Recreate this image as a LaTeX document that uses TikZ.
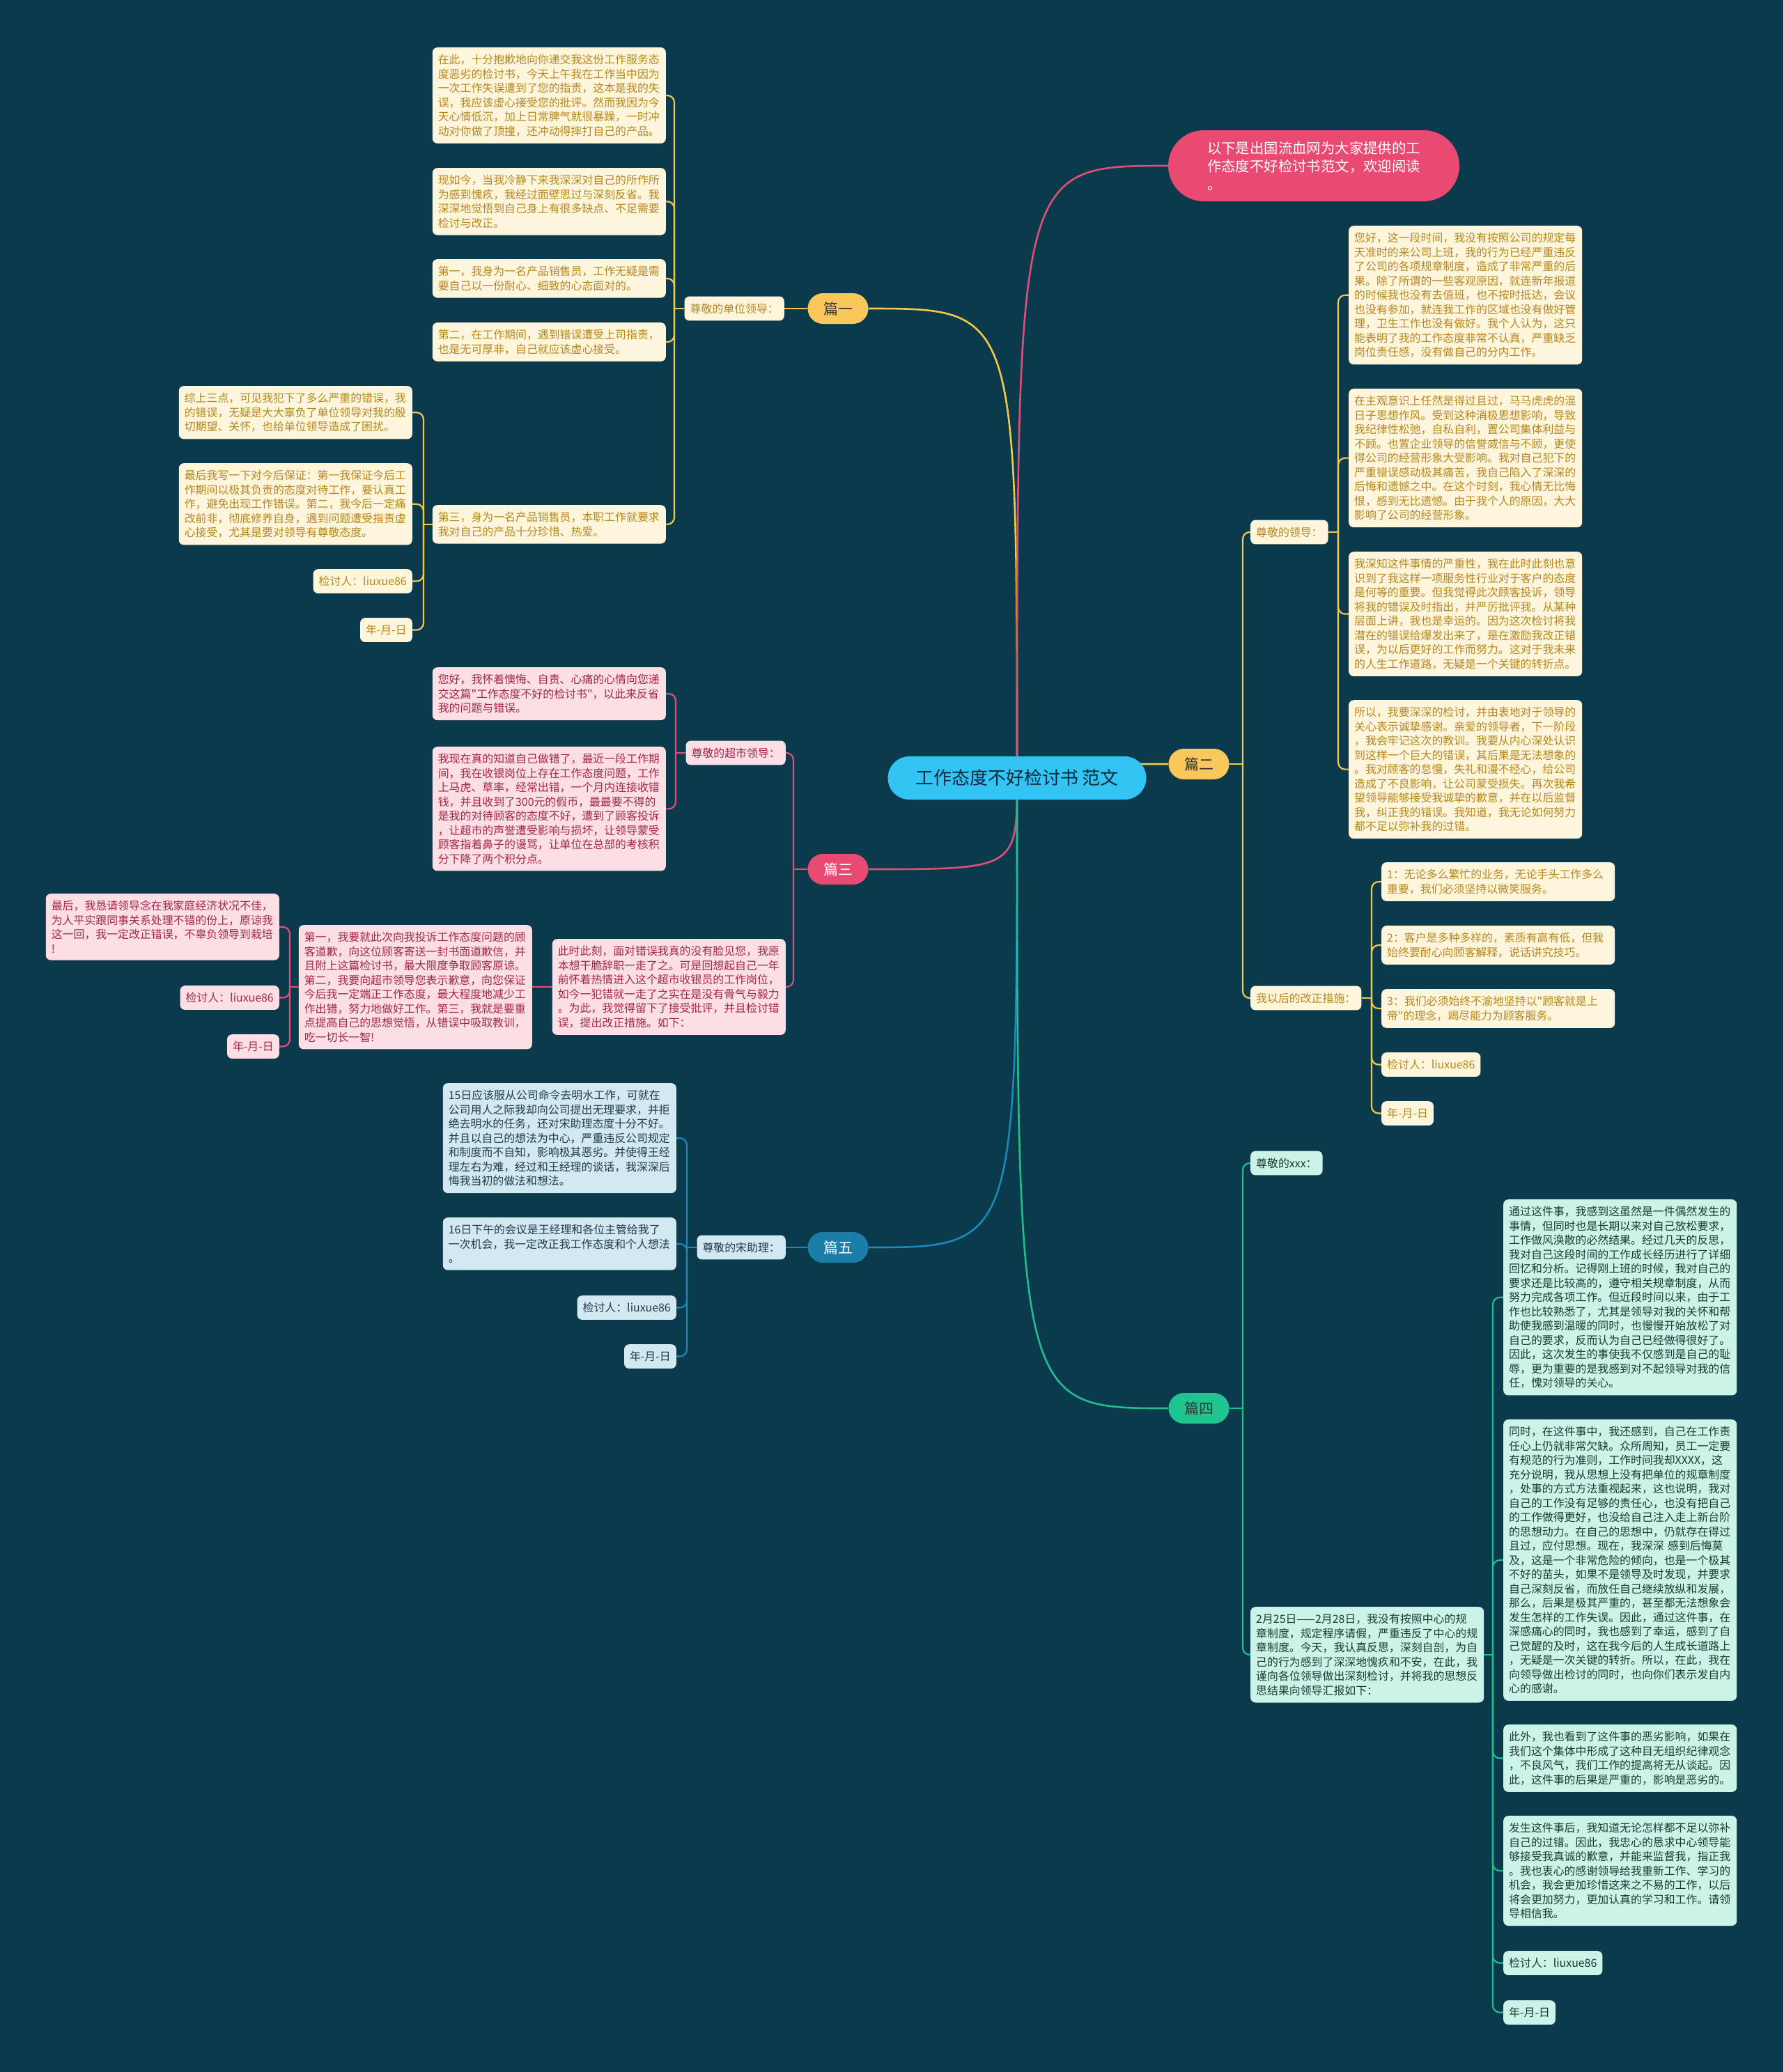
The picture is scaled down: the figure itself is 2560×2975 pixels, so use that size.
\documentclass[tikz,border=0pt]{standalone}
\usepackage{fontspec}
\setmainfont{Noto Sans CJK SC}[Ligatures=TeXOff]
\definecolor{bgc}{RGB}{11,58,77}
\definecolor{yline}{RGB}{242,201,76}
\definecolor{ycream}{RGB}{253,246,220}
\definecolor{ytext}{RGB}{184,134,30}
\definecolor{ytopic}{RGB}{249,199,90}
\definecolor{pline}{RGB}{222,80,120}
\definecolor{pbox}{RGB}{252,222,229}
\definecolor{ptext}{RGB}{163,38,77}
\definecolor{ptopic}{RGB}{233,74,114}
\definecolor{bline}{RGB}{27,137,184}
\definecolor{bboxc}{RGB}{210,233,242}
\definecolor{btext}{RGB}{30,58,76}
\definecolor{btopic}{RGB}{26,126,168}
\definecolor{gline}{RGB}{32,190,140}
\definecolor{gboxc}{RGB}{204,243,232}
\definecolor{gtext}{RGB}{28,56,50}
\definecolor{gtopic}{RGB}{31,196,144}
\definecolor{cfill}{RGB}{50,196,242}
\definecolor{ctext}{RGB}{20,40,60}
\definecolor{darktxt}{RGB}{50,50,50}
\newcommand\mmbody{\fontsize{15.9}{20.5}\selectfont}
\newcommand\mmtopic{\fontsize{21}{24}\selectfont}
\newcommand\mmcenter{\fontsize{26}{30}\selectfont}
\newcommand\mmintro{\fontsize{20.4}{26}\selectfont}
\newcommand\mmelbow[4]{%
  \draw[#1] (#2) -- (#2 -| #3);
  \draw[#1, rounded corners=10pt] (#2 -| #3) |- (#4);
}
\pgfdeclarelayer{bgl}
\pgfdeclarelayer{edges}
\pgfsetlayers{bgl,edges,main}
\tikzset{
  box/.style={rounded corners=7pt, inner xsep=8pt, inner ysep=10pt, align=left, font=\mmbody},
  wide/.style={text width=319pt},
  ybox/.style={box, wide, fill=ycream, text=ytext},
  ylab/.style={box, fill=ycream, text=ytext},
  pboxs/.style={box, wide, fill=pbox, text=ptext},
  plab/.style={box, fill=pbox, text=ptext},
  bboxs/.style={box, wide, fill=bboxc, text=btext},
  blab/.style={box, fill=bboxc, text=btext},
  gboxs/.style={box, wide, fill=gboxc, text=gtext},
  glab/.style={box, fill=gboxc, text=gtext},
  topic/.style={rounded corners=22pt, minimum width=87pt, minimum height=44pt, inner sep=0pt, font=\mmtopic},
  ybr/.style={draw=yline, line width=2.2pt},
  pbr/.style={draw=pline, line width=2.2pt},
  bbr/.style={draw=bline, line width=2.2pt},
  gbr/.style={draw=gline, line width=2.2pt},
  mainy/.style={draw=yline, line width=2.6pt},
  mainp/.style={draw=pline, line width=2.6pt},
  mainb/.style={draw=bline, line width=2.6pt},
  maing/.style={draw=gline, line width=2.6pt},
}
\begin{document}
\begin{tikzpicture}[x=1pt,y=-1pt]
\begin{pgfonlayer}{bgl}
\fill[bgc] (0,0) rectangle (2560,2975);
\end{pgfonlayer}
\useasboundingbox (0,0) rectangle (2560,2975);

% center
\node[fill=cfill, text=ctext, rounded corners=31pt, minimum width=371pt, minimum height=62pt, font=\mmcenter] (c) at (1460,1117) {工作态度不好检讨书 范文};

% intro bubble
\node[fill=ptopic, text=white, rounded corners=51pt, minimum height=102pt, text width=306pt, inner xsep=56pt, inner ysep=15pt, align=left, font=\mmintro] (intro) at (1886,238) {以下是出国流血网为大家提供的工\\作态度不好检讨书范文，欢迎阅读\\。};

% ===== 篇一 =====
\node[topic, fill=ytopic, text=darktxt] (p1) at (1203,443) {篇一};
\node[ylab, anchor=east] (p1l) at (1126,443) {尊敬的单位领导：};
\coordinate (b1) at (968,0);
\node[ybox, anchor=north east] (p1a) at (956,68) {在此，十分抱歉地向你递交我这份工作服务态\\度恶劣的检讨书，今天上午我在工作当中因为\\一次工作失误遭到了您的指责，这本是我的失\\误，我应该虚心接受您的批评。然而我因为今\\天心情低沉，加上日常脾气就很暴躁，一时冲\\动对你做了顶撞，还冲动得摔打自己的产品。};
\node[ybox, anchor=north east] (p1b) at (956,241) {现如今，当我冷静下来我深深对自己的所作所\\为感到愧疚，我经过面壁思过与深刻反省。我\\深深地觉悟到自己身上有很多缺点、不足需要\\检讨与改正。};
\node[ybox, anchor=north east] (p1c) at (956,372) {第一，我身为一名产品销售员，工作无疑是需\\要自己以一份耐心、细致的心态面对的。};
\node[ybox, anchor=north east] (p1d) at (956,463) {第二，在工作期间，遇到错误遭受上司指责，\\也是无可厚非，自己就应该虚心接受。};
\node[ybox, anchor=north east] (p1e) at (956,725) {第三，身为一名产品销售员，本职工作就要求\\我对自己的产品十分珍惜、热爱。};
\coordinate (b1e) at (608,0);
\node[ybox, anchor=north east] (p1e1) at (592,554) {综上三点，可见我犯下了多么严重的错误，我\\的错误，无疑是大大辜负了单位领导对我的殷\\切期望、关怀，也给单位领导造成了困扰。};
\node[ybox, anchor=north east] (p1e2) at (592,665) {最后我写一下对今后保证：第一我保证今后工\\作期间以极其负责的态度对待工作，要认真工\\作，避免出现工作错误。第二，我今后一定痛\\改前非，彻底修养自身，遇到问题遭受指责虚\\心接受，尤其是要对领导有尊敬态度。};
\node[ylab, anchor=north east] (p1e3) at (592,817) {检讨人：liuxue86};
\node[ylab, anchor=north east] (p1e4) at (592,887) {年-月-日};

% ===== 篇三 =====
\node[topic, fill=ptopic, text=white] (p3) at (1203,1248) {篇三};
\coordinate (b3) at (1139,0);
\node[plab, anchor=east] (p3l) at (1128,1081) {尊敬的超市领导：};
\node[pboxs, anchor=north east] (p3m) at (1128,1348) {此时此刻，面对错误我真的没有脸见您，我原\\本想干脆辞职一走了之。可是回想起自己一年\\前怀着热情进入这个超市收银员的工作岗位，\\如今一犯错就一走了之实在是没有骨气与毅力\\。为此，我觉得留下了接受批评，并且检讨错\\误，提出改正措施。如下：};
\coordinate (b3l) at (970,0);
\node[pboxs, anchor=north east] (p3a) at (956,958) {您好，我怀着懊悔、自责、心痛的心情向您递\\交这篇"工作态度不好的检讨书"，以此来反省\\我的问题与错误。};
\node[pboxs, anchor=north east] (p3b) at (956,1072) {我现在真的知道自己做错了，最近一段工作期\\间，我在收银岗位上存在工作态度问题，工作\\上马虎、草率，经常出错，一个月内连接收错\\钱，并且收到了300元的假币，最最要不得的\\是我的对待顾客的态度不好，遭到了顾客投诉\\，让超市的声誉遭受影响与损坏，让领导蒙受\\顾客指着鼻子的谩骂，让单位在总部的考核积\\分下降了两个积分点。};
\node[pboxs, anchor=north east] (p3n) at (764,1328) {第一，我要就此次向我投诉工作态度问题的顾\\客道歉，向这位顾客寄送一封书面道歉信，并\\且附上这篇检讨书，最大限度争取顾客原谅。\\第二，我要向超市领导您表示歉意，向您保证\\今后我一定端正工作态度，最大程度地减少工\\作出错，努力地做好工作。第三，我就是要重\\点提高自己的思想觉悟，从错误中吸取教训，\\吃一切长一智!};
\coordinate (b3n) at (416,0);
\node[pboxs, anchor=north east] (p3n1) at (401,1283) {最后，我恳请领导念在我家庭经济状况不佳，\\为人平实跟同事关系处理不错的份上，原谅我\\这一回，我一定改正错误，不辜负领导到栽培\\!};
\node[plab, anchor=north east] (p3n2) at (401,1415) {检讨人：liuxue86};
\node[plab, anchor=north east] (p3n3) at (401,1485) {年-月-日};

% ===== 篇五 =====
\node[topic, fill=btopic, text=white] (p5) at (1203,1791) {篇五};
\node[blab, anchor=east] (p5l) at (1128,1791) {尊敬的宋助理：};
\coordinate (b5) at (986,0);
\node[bboxs, anchor=north east] (p5a) at (971,1555) {15日应该服从公司命令去明水工作，可就在\\公司用人之际我却向公司提出无理要求，并拒\\绝去明水的任务，还对宋助理态度十分不好。\\并且以自己的想法为中心，严重违反公司规定\\和制度而不自知，影响极其恶劣。并使得王经\\理左右为难，经过和王经理的谈话，我深深后\\悔我当初的做法和想法。};
\node[bboxs, anchor=north east] (p5b) at (971,1748) {16日下午的会议是王经理和各位主管给我了\\一次机会，我一定改正我工作态度和个人想法\\。};
\node[blab, anchor=north east] (p5c) at (971,1860) {检讨人：liuxue86};
\node[blab, anchor=north east] (p5d) at (971,1930) {年-月-日};

% ===== 篇二 =====
\node[topic, fill=ytopic, text=darktxt] (p2) at (1721,1097) {篇二};
\coordinate (b2) at (1784,0);
\node[ylab, anchor=west] (p2l) at (1795,764) {尊敬的领导：};
\node[ylab, anchor=west] (p2m) at (1795,1433) {我以后的改正措施：};
\coordinate (b2l) at (1921,0);
\node[ybox, anchor=north west] (p2a) at (1936,324) {您好，这一段时间，我没有按照公司的规定每\\天准时的来公司上班，我的行为已经严重违反\\了公司的各项规章制度，造成了非常严重的后\\果。除了所谓的一些客观原因，就连新年报道\\的时候我也没有去值班，也不按时抵达，会议\\也没有参加，就连我工作的区域也没有做好管\\理，卫生工作也没有做好。我个人认为，这只\\能表明了我的工作态度非常不认真，严重缺乏\\岗位责任感，没有做自己的分内工作。};
\node[ybox, anchor=north west] (p2b) at (1936,558) {在主观意识上任然是得过且过，马马虎虎的混\\日子思想作风。受到这种消极思想影响，导致\\我纪律性松弛，自私自利，置公司集体利益与\\不顾。也置企业领导的信誉威信与不顾，更使\\得公司的经营形象大受影响。我对自己犯下的\\严重错误感动极其痛苦，我自己陷入了深深的\\后悔和遗憾之中。在这个时刻，我心情无比悔\\恨，感到无比遗憾。由于我个人的原因，大大\\影响了公司的经营形象。};
\node[ybox, anchor=north west] (p2c) at (1936,792) {我深知这件事情的严重性，我在此时此刻也意\\识到了我这样一项服务性行业对于客户的态度\\是何等的重要。但我觉得此次顾客投诉，领导\\将我的错误及时指出，并严厉批评我。从某种\\层面上讲，我也是幸运的。因为这次检讨将我\\潜在的错误给爆发出来了，是在激励我改正错\\误，为以后更好的工作而努力。这对于我未来\\的人生工作道路，无疑是一个关键的转折点。};
\node[ybox, anchor=north west] (p2d) at (1936,1005) {所以，我要深深的检讨，并由衷地对于领导的\\关心表示诚挚感谢。亲爱的领导者，下一阶段\\，我会牢记这次的教训。我要从内心深处认识\\到这样一个巨大的错误，其后果是无法想象的\\。我对顾客的怠慢，失礼和漫不经心，给公司\\造成了不良影响，让公司蒙受损失。再次我希\\望领导能够接受我诚挚的歉意，并在以后监督\\我，纠正我的错误。我知道，我无论如何努力\\都不足以弥补我的过错。};
\coordinate (b2m) at (1969,0);
\node[ybox, anchor=north west] (p2m1) at (1983,1238) {1：无论多么繁忙的业务，无论手头工作多么\\重要，我们必须坚持以微笑服务。};
\node[ybox, anchor=north west] (p2m2) at (1983,1329) {2：客户是多种多样的，素质有高有低，但我\\始终要耐心向顾客解释，说话讲究技巧。};
\node[ybox, anchor=north west] (p2m3) at (1983,1420) {3：我们必须始终不渝地坚持以"顾客就是上\\帝"的理念，竭尽能力为顾客服务。};
\node[ylab, anchor=north west] (p2m4) at (1983,1511) {检讨人：liuxue86};
\node[ylab, anchor=north west] (p2m5) at (1983,1581) {年-月-日};

% ===== 篇四 =====
\node[topic, fill=gtopic, text=darktxt] (p4) at (1721,2022) {篇四};
\coordinate (b4) at (1784,0);
\node[glab, anchor=west] (p4l) at (1795,1670) {尊敬的xxx：};
\node[gboxs, anchor=north west] (p4m) at (1795,2307) {2月25日——2月28日，我没有按照中心的规\\章制度，规定程序请假，严重违反了中心的规\\章制度。今天，我认真反思，深刻自剖，为自\\己的行为感到了深深地愧疚和不安，在此，我\\谨向各位领导做出深刻检讨，并将我的思想反\\思结果向领导汇报如下：};
\coordinate (b4m) at (2143,0);
\node[gboxs, anchor=north west] (p4a) at (2158,1722) {通过这件事，我感到这虽然是一件偶然发生的\\事情，但同时也是长期以来对自己放松要求，\\工作做风涣散的必然结果。经过几天的反思，\\我对自己这段时间的工作成长经历进行了详细\\回忆和分析。记得刚上班的时候，我对自己的\\要求还是比较高的，遵守相关规章制度，从而\\努力完成各项工作。但近段时间以来，由于工\\作也比较熟悉了，尤其是领导对我的关怀和帮\\助使我感到温暖的同时，也慢慢开始放松了对\\自己的要求，反而认为自己已经做得很好了。\\因此，这次发生的事使我不仅感到是自己的耻\\辱，更为重要的是我感到对不起领导对我的信\\任，愧对领导的关心。};
\node[gboxs, anchor=north west] (p4b) at (2158,2038) {同时，在这件事中，我还感到，自己在工作责\\任心上仍就非常欠缺。众所周知，员工一定要\\有规范的行为准则，工作时间我却XXXX，这\\充分说明，我从思想上没有把单位的规章制度\\，处事的方式方法重视起来，这也说明，我对\\自己的工作没有足够的责任心，也没有把自己\\的工作做得更好，也没给自己注入走上新台阶\\的思想动力。在自己的思想中，仍就存在得过\\且过，应付思想。现在，我深深 感到后悔莫\\及，这是一个非常危险的倾向，也是一个极其\\不好的苗头，如果不是领导及时发现，并要求\\自己深刻反省，而放任自己继续放纵和发展，\\那么，后果是极其严重的，甚至都无法想象会\\发生怎样的工作失误。因此，通过这件事，在\\深感痛心的同时，我也感到了幸运，感到了自\\己觉醒的及时，这在我今后的人生成长道路上\\，无疑是一次关键的转折。所以，在此，我在\\向领导做出检讨的同时，也向你们表示发自内\\心的感谢。};
\node[gboxs, anchor=north west] (p4c) at (2158,2476) {此外，我也看到了这件事的恶劣影响，如果在\\我们这个集体中形成了这种目无组织纪律观念\\，不良风气，我们工作的提高将无从谈起。因\\此，这件事的后果是严重的，影响是恶劣的。};
\node[gboxs, anchor=north west] (p4d) at (2158,2607) {发生这件事后，我知道无论怎样都不足以弥补\\自己的过错。因此，我忠心的恳求中心领导能\\够接受我真诚的歉意，并能来监督我，指正我\\。我也衷心的感谢领导给我重新工作、学习的\\机会，我会更加珍惜这来之不易的工作，以后\\将会更加努力，更加认真的学习和工作。请领\\导相信我。};
\node[glab, anchor=north west] (p4e) at (2158,2801) {检讨人：liuxue86};
\node[glab, anchor=north west] (p4f) at (2158,2872) {年-月-日};

% ===== connectors =====
\begin{pgfonlayer}{edges}
\draw[mainy] (c.center) .. controls (c.center |- p1.east) .. (p1.east);
\draw[mainp] (c.center) .. controls (c.center |- p3.east) .. (p3.east);
\draw[mainb] (c.center) .. controls (c.center |- p5.east) .. (p5.east);
\draw[mainp] (c.center) .. controls (c.center |- intro.west) .. (intro.west);
\draw[mainy] (c.center) .. controls (c.center |- p2.west) .. (p2.west);
\draw[maing] (c.center) .. controls (c.center |- p4.west) .. (p4.west);
% 篇一
\draw[ybr] (p1.west) -- (p1l.east);
\mmelbow{ybr}{p1l.west}{b1}{p1a.east}
\mmelbow{ybr}{p1l.west}{b1}{p1b.east}
\mmelbow{ybr}{p1l.west}{b1}{p1c.east}
\mmelbow{ybr}{p1l.west}{b1}{p1d.east}
\mmelbow{ybr}{p1l.west}{b1}{p1e.east}
\mmelbow{ybr}{p1e.west}{b1e}{p1e1.east}
\mmelbow{ybr}{p1e.west}{b1e}{p1e2.east}
\mmelbow{ybr}{p1e.west}{b1e}{p1e3.east}
\mmelbow{ybr}{p1e.west}{b1e}{p1e4.east}
% 篇三
\mmelbow{pbr}{p3.west}{b3}{p3l.east}
\mmelbow{pbr}{p3.west}{b3}{p3m.east}
\mmelbow{pbr}{p3l.west}{b3l}{p3a.east}
\mmelbow{pbr}{p3l.west}{b3l}{p3b.east}
\draw[pbr] (p3m.west) -- (p3m.west -| p3n.east);
\mmelbow{pbr}{p3n.west}{b3n}{p3n1.east}
\mmelbow{pbr}{p3n.west}{b3n}{p3n2.east}
\mmelbow{pbr}{p3n.west}{b3n}{p3n3.east}
% 篇五
\draw[bbr] (p5.west) -- (p5l.east);
\mmelbow{bbr}{p5l.west}{b5}{p5a.east}
\mmelbow{bbr}{p5l.west}{b5}{p5b.east}
\mmelbow{bbr}{p5l.west}{b5}{p5c.east}
\mmelbow{bbr}{p5l.west}{b5}{p5d.east}
% 篇二
\mmelbow{ybr}{p2.east}{b2}{p2l.west}
\mmelbow{ybr}{p2.east}{b2}{p2m.west}
\mmelbow{ybr}{p2l.east}{b2l}{p2a.west}
\mmelbow{ybr}{p2l.east}{b2l}{p2b.west}
\mmelbow{ybr}{p2l.east}{b2l}{p2c.west}
\mmelbow{ybr}{p2l.east}{b2l}{p2d.west}
\mmelbow{ybr}{p2m.east}{b2m}{p2m1.west}
\mmelbow{ybr}{p2m.east}{b2m}{p2m2.west}
\mmelbow{ybr}{p2m.east}{b2m}{p2m3.west}
\mmelbow{ybr}{p2m.east}{b2m}{p2m4.west}
\mmelbow{ybr}{p2m.east}{b2m}{p2m5.west}
% 篇四
\mmelbow{gbr}{p4.east}{b4}{p4l.west}
\mmelbow{gbr}{p4.east}{b4}{p4m.west}
\mmelbow{gbr}{p4m.east}{b4m}{p4a.west}
\mmelbow{gbr}{p4m.east}{b4m}{p4b.west}
\mmelbow{gbr}{p4m.east}{b4m}{p4c.west}
\mmelbow{gbr}{p4m.east}{b4m}{p4d.west}
\mmelbow{gbr}{p4m.east}{b4m}{p4e.west}
\mmelbow{gbr}{p4m.east}{b4m}{p4f.west}
\end{pgfonlayer}
\end{tikzpicture}
\end{document}
